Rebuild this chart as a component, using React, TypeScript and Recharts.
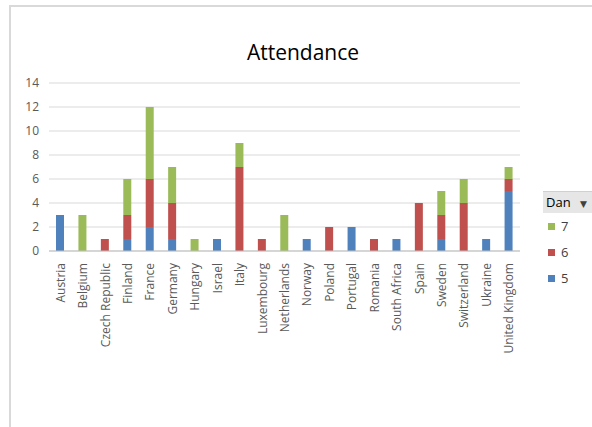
import { BarChart, Bar, XAxis, YAxis, CartesianGrid } from 'recharts';

const countries = [
  'Austria', 'Belgium', 'Czech Republic', 'Finland', 'France', 'Germany', 'Hungary',
  'Israel', 'Italy', 'Luxembourg', 'Netherlands', 'Norway', 'Poland', 'Portugal',
  'Romania', 'South Africa', 'Spain', 'Sweden', 'Switzerland', 'Ukraine', 'United Kingdom',
];
const dan5 = [3, 0, 0, 1, 2, 1, 0, 1, 0, 0, 0, 1, 0, 2, 0, 1, 0, 1, 0, 1, 5];
const dan6 = [0, 0, 1, 2, 4, 3, 0, 0, 7, 1, 0, 0, 2, 0, 1, 0, 4, 2, 4, 0, 1];
const dan7 = [0, 3, 0, 3, 6, 3, 1, 0, 2, 0, 3, 0, 0, 0, 0, 0, 0, 2, 2, 0, 1];
const yTicks = [0, 2, 4, 6, 8, 10, 12, 14];

const data = countries.map((c, i) => ({ country: c, d5: dan5[i], d6: dan6[i], d7: dan7[i] }));

const font = '"Open Sans", "DejaVu Sans", sans-serif';
const legendItems = [
  { label: '7', color: '#9BBB59' },
  { label: '6', color: '#C0504D' },
  { label: '5', color: '#4F81BD' },
];

const CountryTick = ({ x, y, payload }: any) => (
  <text
    x={x}
    y={y}
    transform={`rotate(-90, ${x}, ${y})`}
    textAnchor="end"
    dominantBaseline="central"
    fontSize={12}
    fill="#595959"
    fontFamily={font}
  >
    {payload.value}
  </text>
);

export default function App() {
  return (
    <div style={{ position: 'absolute', left: 0, top: 0, width: 592, height: 427, background: '#fff', fontFamily: font, overflow: 'hidden' }}>
      {/* chart area border (only top/left visible in the crop) */}
      <div style={{ position: 'absolute', left: 9, top: 5, width: 600, height: 440, borderTop: '2px solid #d9d9d9', borderLeft: '2px solid #d9d9d9' }} />
      <div style={{ position: 'absolute', left: 0, width: 592, top: 38, textAlign: 'center', paddingLeft: 14, boxSizing: 'border-box', fontSize: 21, color: '#000' }}>
        Attendance
      </div>
      <div style={{ position: 'absolute', left: 0, top: 0 }}>
        <BarChart width={592} height={427} data={data} margin={{ top: 83, right: 72, bottom: 66, left: 10 }} barSize={8}>
          <CartesianGrid vertical={false} stroke="#d9d9d9" />
          <XAxis
            dataKey="country"
            interval={0}
            height={110}
            tick={<CountryTick />}
            tickLine={false}
            axisLine={{ stroke: '#bfbfbf' }}
            tickMargin={6}
          />
          <YAxis
            width={39}
            domain={[0, 14]}
            ticks={yTicks}
            tickLine={false}
            axisLine={false}
            tickMargin={4}
            tick={{ fill: '#595959', fontSize: 12, fontFamily: font }}
          />
          <Bar dataKey="d5" stackId="a" fill="#4F81BD" isAnimationActive={false} />
          <Bar dataKey="d6" stackId="a" fill="#C0504D" isAnimationActive={false} />
          <Bar dataKey="d7" stackId="a" fill="#9BBB59" isAnimationActive={false} />
        </BarChart>
      </div>
      <div style={{ position: 'absolute', left: 543, top: 191, width: 60, height: 22, background: '#e6e6e6', borderTop: '1px solid #d0d0d0', boxSizing: 'border-box', fontSize: 13, lineHeight: '21px', paddingLeft: 3, color: '#000' }}>
        Dan <span style={{ fontSize: 9, marginLeft: 6, color: '#404040' }}>▼</span>
      </div>
      {legendItems.map((it, i) => (
        <div key={it.label} style={{ position: 'absolute', left: 548, top: 217 + i * 26, fontSize: 13, color: '#404040', display: 'flex', alignItems: 'center' }}>
          <span style={{ display: 'inline-block', width: 7, height: 7, background: it.color, marginRight: 6 }} />
          {it.label}
        </div>
      ))}
    </div>
  );
}
